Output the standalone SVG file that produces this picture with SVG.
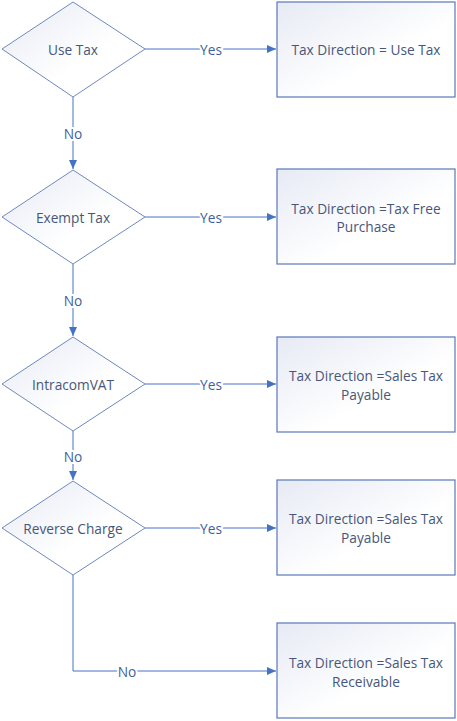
<svg xmlns="http://www.w3.org/2000/svg" width="457" height="721" viewBox="0 0 457 721">
<style>
.shape{stroke:#6f88c0;stroke-width:1;fill:url(#g)}
.box{stroke:#5a78b8;stroke-width:1.2;fill:url(#g)}
.t{font-family:"Open Sans","Noto Sans",sans-serif;font-size:13.7px;fill:#47577a;text-anchor:middle;dominant-baseline:central}
.c{stroke:#4472c4;stroke-width:1;fill:none}
.lbl{font-family:"Open Sans","Noto Sans",sans-serif;font-size:13.7px;fill:#3f5f9f;text-anchor:middle;dominant-baseline:central;stroke:#fff;stroke-width:4;paint-order:stroke}
</style>
<defs>
<linearGradient id="g" x1="0" y1="0" x2="1" y2="1">
<stop offset="0" stop-color="#e6eaf4"/>
<stop offset="0.6" stop-color="#ffffff"/>
<stop offset="1" stop-color="#ffffff"/>
</linearGradient>
<marker id="a" markerWidth="10" markerHeight="10" refX="9" refY="5" orient="auto" markerUnits="userSpaceOnUse">
<path d="M0,1 L9,5 L0,9 Z" fill="#4472c4"/>
</marker>
</defs>
<rect width="457" height="721" fill="#fff"/>
<g id="connectors">
<line class="c" x1="145" y1="49" x2="276" y2="49" marker-end="url(#a)"/>
<line class="c" x1="145" y1="217" x2="276" y2="217" marker-end="url(#a)"/>
<line class="c" x1="145" y1="384" x2="276" y2="384" marker-end="url(#a)"/>
<line class="c" x1="145" y1="528" x2="276" y2="528" marker-end="url(#a)"/>
<line class="c" x1="73" y1="97" x2="73" y2="169" marker-end="url(#a)"/>
<line class="c" x1="73" y1="264" x2="73" y2="336" marker-end="url(#a)"/>
<line class="c" x1="73" y1="431" x2="73" y2="480" marker-end="url(#a)"/>
<polyline class="c" points="73,575 73,671 276,671" marker-end="url(#a)"/>
<text class="lbl" x="211" y="49">Yes</text>
<text class="lbl" x="211" y="217">Yes</text>
<text class="lbl" x="211" y="384">Yes</text>
<text class="lbl" x="211" y="528">Yes</text>
<text class="lbl" x="73" y="133">No</text>
<text class="lbl" x="73" y="300">No</text>
<text class="lbl" x="73" y="456">No</text>
<text class="lbl" x="127" y="671">No</text>
</g>
<g id="d1"><polygon class="shape" points="73,2 145,49 73,97 2,49"/><text class="t" x="73" y="49">Use Tax</text></g>
<g id="d2"><polygon class="shape" points="73,170 145,217 73,264 2,217"/><text class="t" x="73" y="217">Exempt Tax</text></g>
<g id="d3"><polygon class="shape" points="73,337 145,384 73,431 2,384"/><text class="t" x="73" y="384">IntracomVAT</text></g>
<g id="d4"><polygon class="shape" points="73,481 145,528 73,575 2,528"/><text class="t" x="73" y="528">Reverse Charge</text></g>
<g id="b1"><rect class="box" x="277" y="2" width="178" height="95"/><text class="t" x="366" y="49">Tax Direction = Use Tax</text></g>
<g id="b2"><rect class="box" x="277" y="169" width="178" height="95"/><text class="t" x="366" y="208">Tax Direction =Tax Free</text><text class="t" x="366" y="226">Purchase</text></g>
<g id="b3"><rect class="box" x="277" y="337" width="178" height="95"/><text class="t" x="366" y="375">Tax Direction =Sales Tax</text><text class="t" x="366" y="394">Payable</text></g>
<g id="b4"><rect class="box" x="277" y="480" width="178" height="95"/><text class="t" x="366" y="518">Tax Direction =Sales Tax</text><text class="t" x="366" y="537">Payable</text></g>
<g id="b5"><rect class="box" x="277" y="623" width="178" height="95"/><text class="t" x="366" y="662">Tax Direction =Sales Tax</text><text class="t" x="366" y="681">Receivable</text></g>
</svg>
